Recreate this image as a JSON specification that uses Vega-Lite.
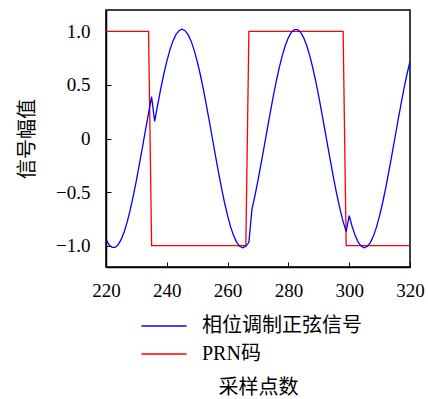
{
  "$schema": "https://vega.github.io/schema/vega-lite/v6.json",
  "width": 304,
  "height": 257,
  "autosize": {"type": "none"},
  "padding": {"left": 106, "top": 10, "right": 18, "bottom": 132},
  "background": "white",
  "config": {
    "font": "Noto Sans CJK SC",
    "view": {"stroke": "#000", "strokeWidth": 1.5},
    "axis": {
      "grid": false,
      "domainColor": "#000",
      "domainWidth": 1.5,
      "tickColor": "#000",
      "tickWidth": 1,
      "tickSize": -5,
      "labelFont": "Liberation Serif",
      "labelFontSize": 19,
      "labelColor": "#000",
      "labelFlush": false,
      "labelOverlap": false,
      "titleFont": "Noto Sans CJK SC",
      "titleFontSize": 20,
      "titleFontWeight": "normal",
      "titleColor": "#000"
    }
  },
  "data": {
    "values": [
      {"x": 220, "sig": -0.942, "prn": 1}, {"x": 221, "sig": -0.992, "prn": 1}, {"x": 222, "sig": -1.017, "prn": 1}, {"x": 223, "sig": -1.017, "prn": 1}, {"x": 224, "sig": -0.992, "prn": 1},
      {"x": 225, "sig": -0.942, "prn": 1}, {"x": 226, "sig": -0.870, "prn": 1}, {"x": 227, "sig": -0.776, "prn": 1}, {"x": 228, "sig": -0.662, "prn": 1}, {"x": 229, "sig": -0.533, "prn": 1},
      {"x": 230, "sig": -0.390, "prn": 1}, {"x": 231, "sig": -0.238, "prn": 1}, {"x": 232, "sig": -0.080, "prn": 1}, {"x": 233, "sig": 0.080, "prn": 1}, {"x": 234, "sig": 0.238, "prn": 1},
      {"x": 235, "sig": 0.390, "prn": -1}, {"x": 236, "sig": 0.160, "prn": -1}, {"x": 237, "sig": 0.315, "prn": -1}, {"x": 238, "sig": 0.463, "prn": -1}, {"x": 239, "sig": 0.600, "prn": -1},
      {"x": 240, "sig": 0.721, "prn": -1}, {"x": 241, "sig": 0.825, "prn": -1}, {"x": 242, "sig": 0.909, "prn": -1}, {"x": 243, "sig": 0.970, "prn": -1}, {"x": 244, "sig": 1.007, "prn": -1},
      {"x": 245, "sig": 1.020, "prn": -1}, {"x": 246, "sig": 1.007, "prn": -1}, {"x": 247, "sig": 0.970, "prn": -1}, {"x": 248, "sig": 0.909, "prn": -1}, {"x": 249, "sig": 0.825, "prn": -1},
      {"x": 250, "sig": 0.721, "prn": -1}, {"x": 251, "sig": 0.600, "prn": -1}, {"x": 252, "sig": 0.463, "prn": -1}, {"x": 253, "sig": 0.315, "prn": -1}, {"x": 254, "sig": 0.160, "prn": -1},
      {"x": 255, "sig": 0.000, "prn": -1}, {"x": 256, "sig": -0.160, "prn": -1}, {"x": 257, "sig": -0.315, "prn": -1}, {"x": 258, "sig": -0.463, "prn": -1}, {"x": 259, "sig": -0.600, "prn": -1},
      {"x": 260, "sig": -0.721, "prn": -1}, {"x": 261, "sig": -0.825, "prn": -1}, {"x": 262, "sig": -0.909, "prn": -1}, {"x": 263, "sig": -0.970, "prn": -1}, {"x": 264, "sig": -1.007, "prn": -1},
      {"x": 265, "sig": -1.020, "prn": -1}, {"x": 266, "sig": -1.007, "prn": -1}, {"x": 267, "sig": -0.970, "prn": 1}, {"x": 268, "sig": -0.662, "prn": 1}, {"x": 269, "sig": -0.533, "prn": 1},
      {"x": 270, "sig": -0.390, "prn": 1}, {"x": 271, "sig": -0.238, "prn": 1}, {"x": 272, "sig": -0.080, "prn": 1}, {"x": 273, "sig": 0.080, "prn": 1}, {"x": 274, "sig": 0.238, "prn": 1},
      {"x": 275, "sig": 0.390, "prn": 1}, {"x": 276, "sig": 0.533, "prn": 1}, {"x": 277, "sig": 0.662, "prn": 1}, {"x": 278, "sig": 0.776, "prn": 1}, {"x": 279, "sig": 0.870, "prn": 1},
      {"x": 280, "sig": 0.942, "prn": 1}, {"x": 281, "sig": 0.992, "prn": 1}, {"x": 282, "sig": 1.017, "prn": 1}, {"x": 283, "sig": 1.017, "prn": 1}, {"x": 284, "sig": 0.992, "prn": 1},
      {"x": 285, "sig": 0.942, "prn": 1}, {"x": 286, "sig": 0.870, "prn": 1}, {"x": 287, "sig": 0.776, "prn": 1}, {"x": 288, "sig": 0.662, "prn": 1}, {"x": 289, "sig": 0.533, "prn": 1},
      {"x": 290, "sig": 0.390, "prn": 1}, {"x": 291, "sig": 0.238, "prn": 1}, {"x": 292, "sig": 0.080, "prn": 1}, {"x": 293, "sig": -0.080, "prn": 1}, {"x": 294, "sig": -0.238, "prn": 1},
      {"x": 295, "sig": -0.390, "prn": 1}, {"x": 296, "sig": -0.533, "prn": 1}, {"x": 297, "sig": -0.662, "prn": 1}, {"x": 298, "sig": -0.776, "prn": 1}, {"x": 299, "sig": -0.870, "prn": -1},
      {"x": 300, "sig": -0.721, "prn": -1}, {"x": 301, "sig": -0.825, "prn": -1}, {"x": 302, "sig": -0.909, "prn": -1}, {"x": 303, "sig": -0.970, "prn": -1}, {"x": 304, "sig": -1.007, "prn": -1},
      {"x": 305, "sig": -1.020, "prn": -1}, {"x": 306, "sig": -1.007, "prn": -1}, {"x": 307, "sig": -0.970, "prn": -1}, {"x": 308, "sig": -0.909, "prn": -1}, {"x": 309, "sig": -0.825, "prn": -1},
      {"x": 310, "sig": -0.721, "prn": -1}, {"x": 311, "sig": -0.600, "prn": -1}, {"x": 312, "sig": -0.463, "prn": -1}, {"x": 313, "sig": -0.315, "prn": -1}, {"x": 314, "sig": -0.160, "prn": -1},
      {"x": 315, "sig": 0.000, "prn": -1}, {"x": 316, "sig": 0.160, "prn": -1}, {"x": 317, "sig": 0.315, "prn": -1}, {"x": 318, "sig": 0.463, "prn": -1}, {"x": 319, "sig": 0.600, "prn": -1},
      {"x": 320, "sig": 0.721, "prn": -1}
    ]
  },
  "layer": [
    {
      "mark": {"type": "line", "strokeWidth": 1.3, "clip": true},
      "encoding": {
        "x": {"field": "x", "type": "quantitative", "scale": {"domain": [220, 320], "nice": false, "zero": false},
              "axis": {"values": [220, 240, 260, 280, 300, 320], "title": "采样点数", "titlePadding": 77, "labelPadding": 19}},
        "y": {"field": "prn", "type": "quantitative", "scale": {"domain": [-1.2, 1.2], "nice": false},
              "axis": {"values": [-1, -0.5, 0, 0.5, 1], "title": "信号幅值", "titlePadding": 18, "labelPadding": 21,
                       "labelExpr": "datum.value == 0 ? '0' : format(datum.value, '.1f')"}},
        "color": {"datum": "PRN码", "type": "nominal",
                  "scale": {"domain": ["相位调制正弦信号", "PRN码"], "range": ["#0000ff", "#ff0000"]},
                  "legend": {"orient": "none", "legendX": 48, "legendY": 306, "title": null,
                             "symbolType": "M-2.5,0H2.5", "symbolSize": 324, "symbolStrokeWidth": 1.3,
                             "labelFont": "Liberation Serif, Noto Sans CJK SC",
                             "labelFontSize": 20, "labelColor": "#000", "labelOffset": 28, "rowPadding": 8}}
      }
    },
    {
      "mark": {"type": "line", "strokeWidth": 1.3, "clip": true},
      "encoding": {
        "x": {"field": "x", "type": "quantitative"},
        "y": {"field": "sig", "type": "quantitative", "title": "信号幅值"},
        "color": {"datum": "相位调制正弦信号", "type": "nominal",
                  "scale": {"domain": ["相位调制正弦信号", "PRN码"], "range": ["#0000ff", "#ff0000"]},
                  "legend": {"orient": "none", "legendX": 48, "legendY": 306, "title": null,
                             "symbolType": "M-2.5,0H2.5", "symbolSize": 324, "symbolStrokeWidth": 1.3,
                             "labelFont": "Liberation Serif, Noto Sans CJK SC",
                             "labelFontSize": 20, "labelColor": "#000", "labelOffset": 28, "rowPadding": 8}}
      }
    }
  ]
}
